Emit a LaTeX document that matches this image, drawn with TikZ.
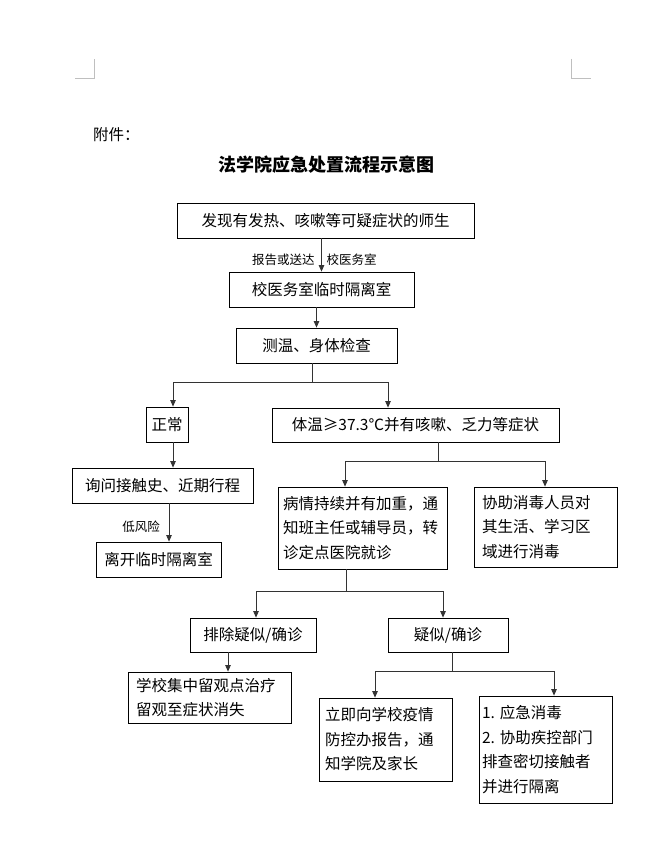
\documentclass[tikz,border=0pt]{standalone}
\usepackage{fontspec}
\setmainfont{Noto Sans CJK SC}
\usetikzlibrary{arrows.meta}
\begin{document}
\begin{tikzpicture}[x=1pt,y=-1pt,
  box/.style={draw, line width=0.8pt, inner sep=0pt, font=\fontsize{15.5}{24.5}\selectfont},
  mbox/.style={box, align=left},
  lbl/.style={font=\fontsize{12.5}{14}\selectfont, inner sep=0pt},
  conn/.style={draw=black!80, line width=0.8pt},
  arr/.style={conn, -{Triangle[length=6.5pt,width=5.5pt]}},
  corner/.style={draw=black!25, line width=0.8pt}]
\useasboundingbox[fill=white] (0,0) rectangle (668,861);

% page corner marks
\draw[corner] (75,78) -- (94,78) -- (94,59);
\draw[corner] (571,59) -- (571,78) -- (591,78);

% heading
\node[anchor=west, inner sep=0pt, font=\fontsize{15.5}{18}\selectfont] (att) at (93,135) {附件：};
\node[inner sep=0pt, font=\fontsize{18}{20}\selectfont\bfseries] (title) at (326,165) {法学院应急处置流程示意图};

% boxes
\node[box, minimum width=297, minimum height=35] (b1) at (325.5,220.5) {发现有发热、咳嗽等可疑症状的师生};
\node[box, minimum width=185, minimum height=35] (b2) at (321.5,289.5) {校医务室临时隔离室};
\node[box, minimum width=161, minimum height=35] (b3) at (316.5,345.5) {测温、身体检查};
\node[box, minimum width=42, minimum height=35] (n1) at (167,424.5) {正常};
\node[box, minimum width=287, minimum height=34] (n2) at (415.5,425) {体温≥37.3℃并有咳嗽、乏力等症状};
\node[box, minimum width=181, minimum height=35] (q) at (162.5,485.5) {询问接触史、近期行程};
\node[box, minimum width=125, minimum height=35] (l) at (158.5,559.5) {离开临时隔离室};
\node[mbox, minimum width=169, minimum height=82, inner xsep=5pt, text width=159pt] (p) at (362.5,528)
  {病情持续并有加重，通\\知班主任或辅导员，转\\诊定点医院就诊};
\node[mbox, minimum width=143, minimum height=80, inner xsep=8pt, text width=127pt] (x) at (545.5,527)
  {协助消毒人员对\\其生活、学习区\\域进行消毒};
\node[box, minimum width=126, minimum height=34] (pc) at (253,635) {排除疑似/确诊};
\node[box, minimum width=120, minimum height=34] (s) at (448,635) {疑似/确诊};
\node[mbox, minimum width=163, minimum height=51, inner xsep=8pt, text width=147pt] (z) at (209.5,697.5)
  {学校集中留观点治疗\\留观至症状消失};
\node[mbox, minimum width=133, minimum height=83, inner xsep=6pt, text width=121pt] (r) at (385.5,739.5)
  {立即向学校疫情\\防控办报告，通\\知学院及家长};
\node[mbox, minimum width=133, minimum height=107, inner xsep=3pt, text width=127pt] (e) at (545.5,749.5)
  {1.\hspace{5pt}应急消毒\\2.\hspace{5pt}协助疾控部门\\排查密切接触者\\并进行隔离};

% labels
\node[lbl, anchor=west] (lab1) at (252,260) {报告或送达\hspace{12pt}校医务室};
\node[lbl] (lab2) at (141,527) {低风险};

% connectors
\draw[arr] (b2.north |- b1.south) -- (b2.north);
\draw[arr] (b3.north |- b2.south) -- (b3.north);

\coordinate (j1) at (312,382);
\coordinate (j1l) at (173,382);
\coordinate (j1r) at (388,382);
\draw[conn] (j1 |- b3.south) -- (j1);
\draw[arr] (j1) -- (j1l) -- (j1l |- n1.north);
\draw[arr] (j1) -- (j1r) -- (j1r |- n2.north);

\draw[arr] (j1l |- n1.south) -- (j1l |- q.north);
\coordinate (k1) at (169,520);
\draw[arr] (k1 |- q.south) -- (k1 |- l.north);

\coordinate (j2) at (438,461);
\coordinate (j2l) at (345,461);
\coordinate (j2r) at (545,461);
\draw[conn] (j2 |- n2.south) -- (j2);
\draw[arr] (j2) -- (j2l) -- (j2l |- p.north);
\draw[arr] (j2) -- (j2r) -- (j2r |- x.north);

\coordinate (j3) at (346,591);
\coordinate (j3l) at (256,591);
\coordinate (j3r) at (443,591);
\draw[conn] (j3 |- p.south) -- (j3);
\draw[arr] (j3) -- (j3l) -- (j3l |- pc.north);
\draw[arr] (j3) -- (j3r) -- (j3r |- s.north);

\coordinate (k2) at (228,660);
\draw[arr] (k2 |- pc.south) -- (k2 |- z.north);

\coordinate (j4) at (452,671);
\coordinate (j4l) at (375,671);
\coordinate (j4r) at (554,671);
\draw[conn] (j4 |- s.south) -- (j4);
\draw[arr] (j4) -- (j4l) -- (j4l |- r.north);
\draw[arr] (j4) -- (j4r) -- (j4r |- e.north);
\end{tikzpicture}
\end{document}
